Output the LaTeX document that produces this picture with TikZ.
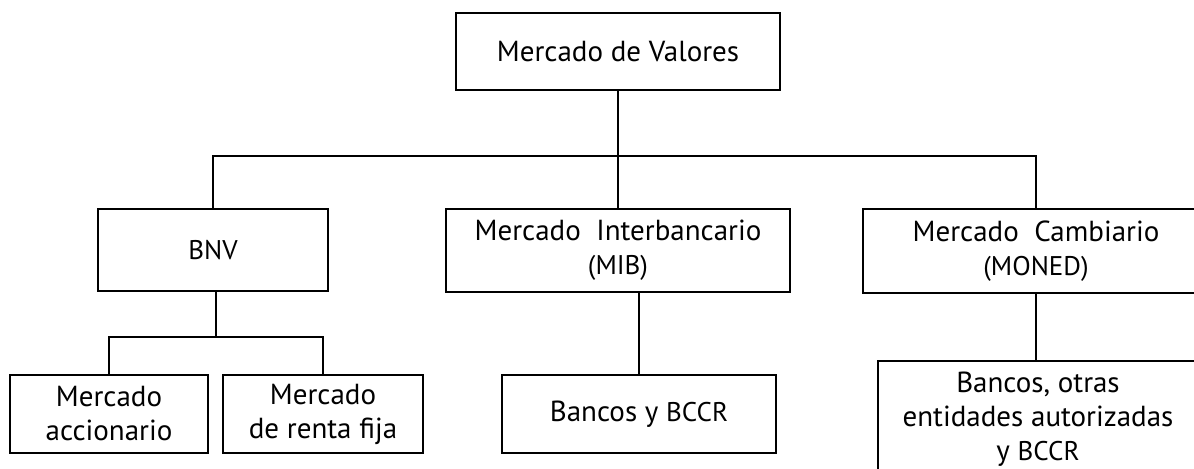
\documentclass[tikz,border=0pt]{standalone}
\usepackage{fontspec}
\setmainfont{PT Sans}
\newcommand{\sig}[1]{{\fontsize{13.5}{15}\selectfont #1}}
\begin{document}
\begin{tikzpicture}[x=0.5pt,y=-0.5pt,
        caja/.style={draw,line width=1pt,align=center,inner sep=0pt,
            font=\fontsize{14.5}{17}\selectfont},
        linea/.style={line width=1pt}]
        \useasboundingbox (0,0) rectangle (1194,468);
        \clip (0,0) rectangle (1194,468);

        % primer nivel
        \node[caja,minimum width=162pt,minimum height=38.5pt] (valores) at (618,51.5) {Mercado de Valores};

        % segundo nivel
        \node[caja,minimum width=115pt,minimum height=41pt] (bnv) at (213,250) {\sig{BNV}};
        \node[caja,minimum width=172pt,minimum height=41.5pt] (mib) at (618,250.5) {Mercado\ \ Interbancario\\\sig{(MIB)}};
        \node[caja,minimum width=173pt,minimum height=42pt] (moned) at (1036,251) {Mercado\ \ Cambiario\\\sig{(MONED)}};

        % tercer nivel
        \node[caja,minimum width=99pt,minimum height=39pt] (accion) at (109,414) {Mercado\\accionario};
        \node[caja,minimum width=100pt,minimum height=39pt] (renta) at (323,414) {Mercado\\de renta fija};
        \node[caja,minimum width=137pt,minimum height=39pt] (bancos) at (639,414) {Bancos y \sig{BCCR}};
        \node[caja,minimum width=160pt,minimum height=58pt] (otras) at (1038,419) {Bancos, otras\\entidades autorizadas\\y \sig{BCCR}};

        % conectores
        \coordinate (bus) at (618,156);
        \coordinate (subbus) at (216,337);
        \draw[linea] (valores.south) -- (mib.north);
        \draw[linea] (bnv.north) -- (bnv.north |- bus) -- (moned.north |- bus) -- (moned.north);
        \draw[linea] ([xshift=1.5pt]bnv.south) -- (subbus);
        \draw[linea] (accion.north) -- (accion.north |- subbus) -- (renta.north |- subbus) -- (renta.north);
        \draw[linea] (bancos.north) -- (bancos.north |- mib.south);
        \draw[linea] (moned.south) -- (moned.south |- otras.north);
    \end{tikzpicture}
\end{document}
